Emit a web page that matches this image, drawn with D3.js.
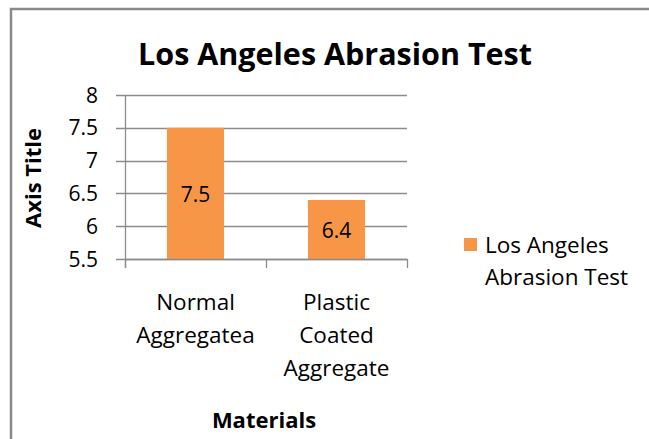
<!DOCTYPE html>
<html>
<head>
<meta charset="utf-8">
<script src="https://cdn.jsdelivr.net/npm/d3@7"></script>
<style>
    body { margin: 0; background: #fff; overflow: hidden; }
    text { font-family: "Open Sans", sans-serif; fill: #000; }
</style>
</head>
<body>
<div id="chart"></div>
<script>
var categories = [["Normal", "Aggregatea"], ["Plastic", "Coated", "Aggregate"]];
var values = [7.5, 6.4];
var yTicks = [5.5, 6, 6.5, 7, 7.5, 8];
var seriesName = ["Los Angeles", "Abrasion Test"];

var width = 649;
var height = 439;
var barColor = "#f79646";
var gridColor = "#8c8c8c";

var svg = d3.select("#chart").append("svg")
    .attr("width", width)
    .attr("height", height)
    .style("display", "block");

// outer chart border (only top and left are inside the picture)
svg.append("path")
    .attr("d", "M11," + height + "V9H" + width)
    .attr("fill", "none")
    .attr("stroke", "#8a8a8a")
    .attr("stroke-width", 2.5);

var plot = { left: 125, right: 407, top: 95, bottom: 259 };

var x = d3.scaleBand()
    .domain(d3.range(categories.length))
    .range([plot.left, plot.right])
    .paddingInner(0.595)
    .paddingOuter(0.2975);

var xOuter = d3.scaleBand()
    .domain(d3.range(categories.length))
    .range([plot.left, plot.right]);

var y = d3.scaleLinear()
    .domain([5.5, 8])
    .range([plot.bottom, plot.top]);

// gridlines + y ticks
svg.append("g")
    .selectAll("line")
    .data(yTicks)
    .join("line")
    .attr("x1", plot.left - 9)
    .attr("x2", plot.right)
    .attr("y1", d => Math.round(y(d)) + 0.5)
    .attr("y2", d => Math.round(y(d)) + 0.5)
    .attr("stroke", gridColor)
    .attr("stroke-width", 1.3);

svg.append("g")
    .selectAll("text")
    .data(yTicks)
    .join("text")
    .attr("x", 98)
    .attr("y", d => y(d))
    .attr("dy", "0.36em")
    .attr("text-anchor", "end")
    .style("font-size", "21px")
    .text(d => d);

// bars
svg.append("g")
    .selectAll("rect")
    .data(values)
    .join("rect")
    .attr("x", (d, i) => x(i))
    .attr("width", x.bandwidth())
    .attr("y", d => y(d))
    .attr("height", d => y(5.5) - y(d))
    .attr("fill", barColor);

// data labels
svg.append("g")
    .selectAll("text")
    .data(values)
    .join("text")
    .attr("x", (d, i) => x(i) + x.bandwidth() / 2)
    .attr("y", d => (y(d) + y(5.5)) / 2)
    .attr("dy", "0.4em")
    .attr("text-anchor", "middle")
    .style("font-size", "21px")
    .text(d => d);

// axes lines
svg.append("line")
    .attr("x1", plot.left + 0.5).attr("x2", plot.left + 0.5)
    .attr("y1", plot.top).attr("y2", plot.bottom + 9)
    .attr("stroke", gridColor).attr("stroke-width", 1.3);

svg.append("line")
    .attr("x1", plot.left).attr("x2", plot.right)
    .attr("y1", plot.bottom + 0.5).attr("y2", plot.bottom + 0.5)
    .attr("stroke", gridColor).attr("stroke-width", 1.3);

var catTicks = d3.range(categories.length + 1).map(i => plot.left + i * xOuter.bandwidth());
svg.append("g")
    .selectAll("line")
    .data(catTicks)
    .join("line")
    .attr("x1", d => Math.round(d) + 0.5)
    .attr("x2", d => Math.round(d) + 0.5)
    .attr("y1", plot.bottom)
    .attr("y2", plot.bottom + 9)
    .attr("stroke", gridColor)
    .attr("stroke-width", 1.3);

// category labels
svg.append("g")
    .selectAll("text")
    .data(categories)
    .join("text")
    .attr("text-anchor", "middle")
    .style("font-size", "22.5px")
    .each(function (lines, i) {
        d3.select(this).selectAll("tspan")
            .data(lines)
            .join("tspan")
            .attr("x", xOuter(i) + xOuter.bandwidth() / 2)
            .attr("y", (d, j) => 310 + j * 33)
            .text(d => d);
    });

// axis titles
svg.append("text")
    .attr("x", 264)
    .attr("y", 428)
    .attr("text-anchor", "middle")
    .style("font-size", "22px")
    .style("font-weight", "bold")
    .text("Materials");

svg.append("text")
    .attr("transform", "translate(41,178) rotate(-90)")
    .attr("text-anchor", "middle")
    .style("font-size", "22px")
    .style("font-weight", "bold")
    .text("Axis Title");

// title
svg.append("text")
    .attr("x", 335)
    .attr("y", 65)
    .attr("text-anchor", "middle")
    .style("font-size", "30.5px")
    .style("font-weight", "bold")
    .text("Los Angeles Abrasion Test");

// legend
svg.append("rect")
    .attr("x", 464).attr("y", 238)
    .attr("width", 13).attr("height", 13)
    .attr("fill", barColor);

svg.append("text")
    .style("font-size", "22.5px")
    .selectAll("tspan")
    .data(seriesName)
    .join("tspan")
    .attr("x", 485)
    .attr("y", (d, i) => 253 + i * 32)
    .text(d => d);
</script>
</body>
</html>
